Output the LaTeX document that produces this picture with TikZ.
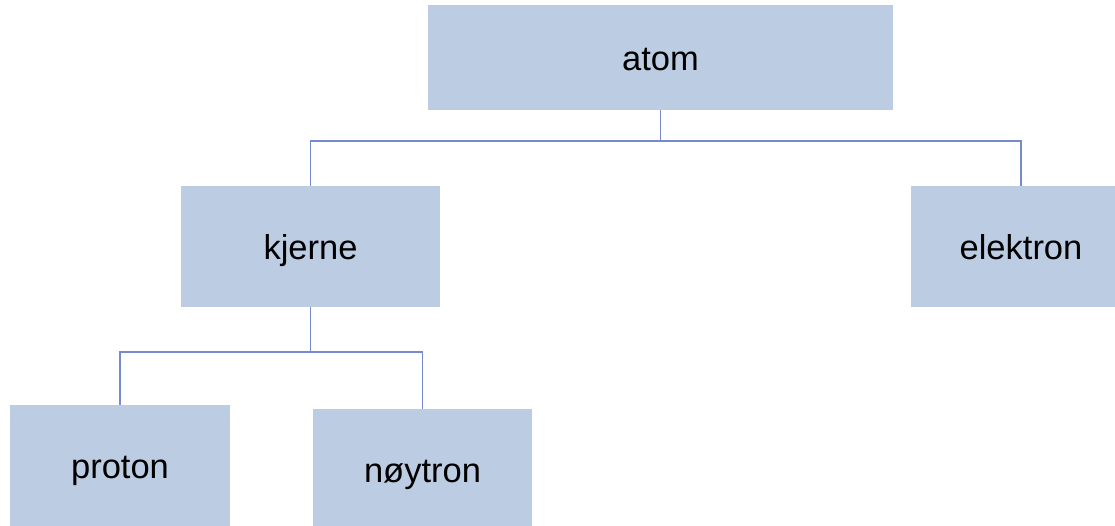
\documentclass[tikz,border=0pt]{standalone}
\usepackage{fontspec}
\setmainfont{Liberation Sans}
\definecolor{boxfill}{RGB}{188,204,226}
\definecolor{linkblue}{RGB}{118,138,208}
\begin{document}
	\begin{tikzpicture}[x=1pt,y=-1pt,
		box/.style={fill=boxfill,inner sep=0,outer sep=0,minimum height=121pt,text height=25.5pt,text depth=0pt,font=\fontsize{34.5}{40}\selectfont},
		link/.style={linkblue,line width=1.4}]
		\useasboundingbox (0,0) rectangle (1115,526);
		% Boxes
		\node [box,minimum width=465pt,minimum height=105pt] (atom) at (660.5,57.5) {atom};
		\node [box,minimum width=259pt] (kjerne) at (310.5,246.5) {kjerne};
		\node [box,minimum width=220pt] (elektron) at (1021,246.5) {elektron};
		\node [box,minimum width=220pt] (proton) at (120,465.5) {proton};
		\node [box,minimum width=219pt] (noytron) at (422.5,469.5) {nøytron};
		% Links atom
		\draw [link] (atom.south) -- ++(0,31) coordinate (atomfork);
		\draw [link] (atomfork) -| (kjerne.north);
		\draw [link] (atomfork) -| (elektron.north);
		% Links kjerne
		\draw [link] (kjerne.south) -- ++(0,45) coordinate (kjernefork);
		\draw [link] (kjernefork) -| (proton.north);
		\draw [link] (kjernefork) -| (noytron.north);
	\end{tikzpicture}
\end{document}
